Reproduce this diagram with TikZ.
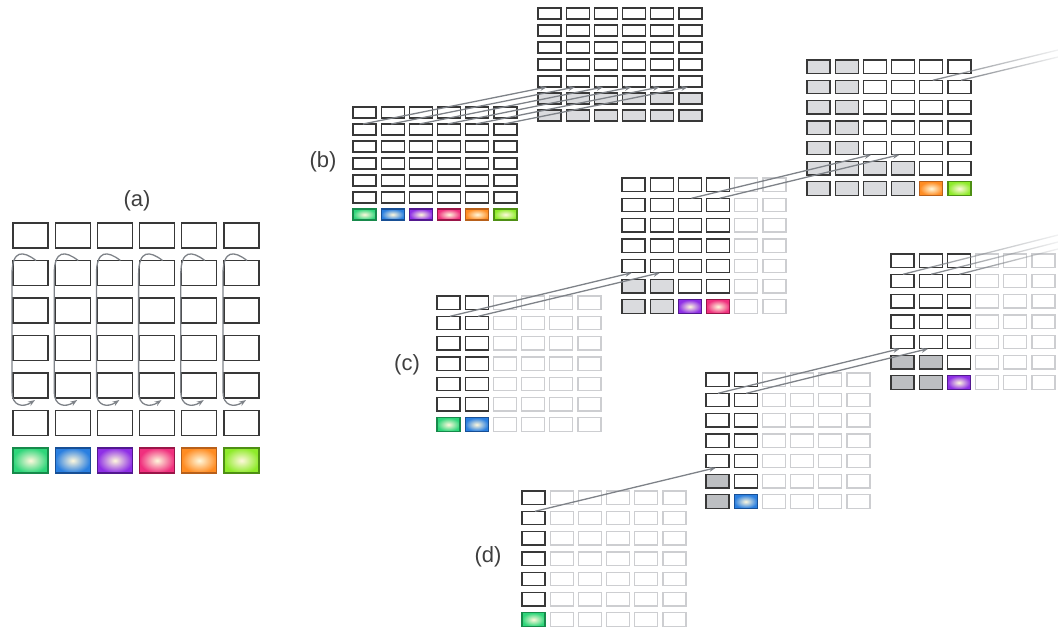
\documentclass[tikz,border=0pt]{standalone}
\usepackage{fontspec}
\setmainfont{Liberation Sans}
\usetikzlibrary{arrows.meta,fadings}

\definecolor{cellline}{HTML}{383838}
\definecolor{faintline}{HTML}{CDCED1}
\definecolor{graylt}{HTML}{DADBDE}
\definecolor{graydk}{HTML}{BDBFC2}
\definecolor{flowgray}{HTML}{7E8288}
\definecolor{labelgray}{HTML}{3F3F3F}
\definecolor{glow}{HTML}{FFF8DC}
\definecolor{greenc}{HTML}{2ED67A}  \definecolor{greenedge}{HTML}{178A4B}
\definecolor{bluec}{HTML}{2A7FE0}   \definecolor{blueedge}{HTML}{174F95}
\definecolor{purplec}{HTML}{8E2FE6} \definecolor{purpleedge}{HTML}{52188F}
\definecolor{pinkc}{HTML}{F0307E}   \definecolor{pinkedge}{HTML}{9A1548}
\definecolor{orangec}{HTML}{FF8C22} \definecolor{orangeedge}{HTML}{B8601A}
\definecolor{limec}{HTML}{8EEB2A}   \definecolor{limeedge}{HTML}{4E8F14}

\tikzfading[name=tailfade, left color=transparent!0, middle color=transparent!15, right color=transparent!90]

\tikzset{
  cell/.style={rectangle, draw, anchor=north west, inner sep=0pt, outer sep=0pt, line width=1.3pt},
  bigcell/.style={minimum width=35pt, minimum height=25pt},
  smallcell/.style={minimum width=23pt, minimum height=11pt},
  midcell/.style={minimum width=23pt, minimum height=13.5pt},
  dk/.style={draw=cellline, fill=white},
  lt/.style={draw=faintline, fill=white},
  gl/.style={draw=cellline, fill=graylt},
  gd/.style={draw=cellline, fill=graydk},
  cgreen/.style={draw=greenedge, inner color=glow, outer color=greenc},
  cblue/.style={draw=blueedge, inner color=glow, outer color=bluec},
  cpurple/.style={draw=purpleedge, inner color=glow, outer color=purplec},
  cpink/.style={draw=pinkedge, inner color=glow, outer color=pinkc},
  corange/.style={draw=orangeedge, inner color=glow, outer color=orangec},
  clime/.style={draw=limeedge, inner color=glow, outer color=limec},
  flow/.style={draw=flowgray, line width=1.3pt, -{Stealth[length=7pt,width=5pt]}},
  tail/.style={draw=flowgray, line width=1.3pt, path fading=tailfade},
  panel/.style={font=\fontsize{22}{26}\selectfont, text=labelgray},
}

% name, size style, x, y, column pitch, row pitch, rows
\newcommand\cellgrid[7]{%
  \foreach \row [count=\r from 0] in {#7} {
    \foreach \s [count=\c from 0] in \row {
      \node[cell, #2, \s] (#1-\r-\c) at ({#3+\c*#5}, {#4+\r*#6}) {};
    }
  }
}

\begin{document}
\begin{tikzpicture}[x=1pt, y=-1pt]
  \useasboundingbox (0,0) rectangle (1058,629);

  % panel labels
  \node[panel] (lblA) at (137,201) {(a)};
  \node[panel] (lblB) at (323,162) {(b)};
  \node[panel] (lblC) at (407,365) {(c)};
  \node[panel] (lblD) at (488,557) {(d)};

  % (a)
  \cellgrid{A}{bigcell}{13}{223}{42.2}{37.5}{
    {dk,dk,dk,dk,dk,dk},{dk,dk,dk,dk,dk,dk},{dk,dk,dk,dk,dk,dk},
    {dk,dk,dk,dk,dk,dk},{dk,dk,dk,dk,dk,dk},{dk,dk,dk,dk,dk,dk},
    {cgreen,cblue,cpurple,cpink,corange,clime}}
  \foreach \c in {0,...,5}
    \draw[flow] ([xshift=23pt]A-1-\c.north west)
      .. controls +(-13,-10) and +(0,-25) .. ([xshift=-1pt,yshift=-14pt]A-1-\c.north west)
      -- ([xshift=-1pt,yshift=6pt]A-4-\c.south west)
      .. controls +(0,14) and +(-12,8) .. ([xshift=22pt,yshift=-2pt]A-4-\c.south west);

  % (b)
  \cellgrid{B1}{smallcell}{353}{107}{28.2}{17}{
    {dk,dk,dk,dk,dk,dk},{dk,dk,dk,dk,dk,dk},{dk,dk,dk,dk,dk,dk},
    {dk,dk,dk,dk,dk,dk},{dk,dk,dk,dk,dk,dk},{dk,dk,dk,dk,dk,dk},
    {cgreen,cblue,cpurple,cpink,corange,clime}}
  \cellgrid{B2}{smallcell}{538}{8}{28.2}{17}{
    {dk,dk,dk,dk,dk,dk},{dk,dk,dk,dk,dk,dk},{dk,dk,dk,dk,dk,dk},
    {dk,dk,dk,dk,dk,dk},{dk,dk,dk,dk,dk,dk},{gl,gl,gl,gl,gl,gl},
    {gl,gl,gl,gl,gl,gl}}
  \foreach \c in {0,...,5}
    \draw[flow] ([xshift=10pt]B1-1-\c.north west) -- ([xshift=9pt]B2-4-\c.south west);

  % (c)
  \cellgrid{C1}{midcell}{437}{296}{28.2}{20.3}{
    {dk,dk,lt,lt,lt,lt},{dk,dk,lt,lt,lt,lt},{dk,dk,lt,lt,lt,lt},
    {dk,dk,lt,lt,lt,lt},{dk,dk,lt,lt,lt,lt},{dk,dk,lt,lt,lt,lt},
    {cgreen,cblue,lt,lt,lt,lt}}
  \cellgrid{C2}{midcell}{622}{178}{28.2}{20.3}{
    {dk,dk,dk,dk,lt,lt},{dk,dk,dk,dk,lt,lt},{dk,dk,dk,dk,lt,lt},
    {dk,dk,dk,dk,lt,lt},{dk,dk,dk,dk,lt,lt},{gl,gl,dk,dk,lt,lt},
    {gl,gl,cpurple,cpink,lt,lt}}
  \cellgrid{C3}{midcell}{807}{60}{28.2}{20.3}{
    {gl,gl,dk,dk,dk,dk},{gl,gl,dk,dk,dk,dk},{gl,gl,dk,dk,dk,dk},
    {gl,gl,dk,dk,dk,dk},{gl,gl,dk,dk,dk,dk},{gl,gl,gl,gl,dk,dk},
    {gl,gl,gl,gl,corange,clime}}
  \foreach \c in {0,1}
    \draw[flow] ([xshift=13pt]C1-1-\c.north west) -- ([xshift=10pt]C2-4-\c.south west);
  \foreach \c in {2,3}
    \draw[flow] ([xshift=13pt]C2-1-\c.north west) -- ([xshift=8pt]C3-4-\c.south west);
  \coordinate (cOut4) at (1058,50);
  \coordinate (cOut5) at (1058,57);
  \foreach \c in {4,5}
    \draw[tail] ([xshift=13pt]C3-1-\c.north west) -- (cOut\c);

  % (d)
  \cellgrid{D1}{midcell}{522}{491}{28.2}{20.3}{
    {dk,lt,lt,lt,lt,lt},{dk,lt,lt,lt,lt,lt},{dk,lt,lt,lt,lt,lt},
    {dk,lt,lt,lt,lt,lt},{dk,lt,lt,lt,lt,lt},{dk,lt,lt,lt,lt,lt},
    {cgreen,lt,lt,lt,lt,lt}}
  \cellgrid{D2}{midcell}{706}{373}{28.2}{20.3}{
    {dk,dk,lt,lt,lt,lt},{dk,dk,lt,lt,lt,lt},{dk,dk,lt,lt,lt,lt},
    {dk,dk,lt,lt,lt,lt},{dk,dk,lt,lt,lt,lt},{gd,dk,lt,lt,lt,lt},
    {gd,cblue,lt,lt,lt,lt}}
  \cellgrid{D3}{midcell}{891}{254}{28.2}{20.3}{
    {dk,dk,dk,lt,lt,lt},{dk,dk,dk,lt,lt,lt},{dk,dk,dk,lt,lt,lt},
    {dk,dk,dk,lt,lt,lt},{dk,dk,dk,lt,lt,lt},{gd,gd,dk,lt,lt,lt},
    {gd,gd,cpurple,lt,lt,lt}}
  \draw[flow] ([xshift=13pt]D1-1-0.north west) -- ([xshift=10pt]D2-4-0.south west);
  \foreach \c in {0,1}
    \draw[flow] ([xshift=12pt]D2-1-\c.north west) -- ([xshift=9pt]D3-4-\c.south west);
  \coordinate (dOut0) at (1058,235);
  \coordinate (dOut1) at (1058,242);
  \coordinate (dOut2) at (1058,249);
  \foreach \c in {0,1,2}
    \draw[tail] ([xshift=12pt]D3-1-\c.north west) -- (dOut\c);

\end{tikzpicture}
\end{document}
